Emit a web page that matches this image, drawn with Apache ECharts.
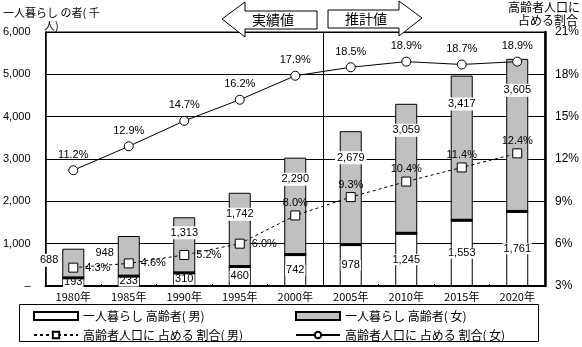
<!DOCTYPE html>
<html>
<head>
<meta charset="utf-8">
<script src="https://cdn.jsdelivr.net/npm/echarts@6/dist/echarts.min.js"></script>
<style>
  html, body { margin: 0; padding: 0; background: #fff; }
  #chart { width: 582px; height: 347px; }
</style>
</head>
<body>
<div id="chart"></div>
<script>
// 一人暮らし高齢者数（千人）と高齢者人口に占める割合（%）
const years = ['1980年', '1985年', '1990年', '1995年', '2000年', '2005年', '2010年', '2015年', '2020年'];
const aloneMale = [193, 233, 310, 460, 742, 978, 1245, 1553, 1761];
const aloneFemale = [688, 948, 1313, 1742, 2290, 2679, 3059, 3417, 3605];
const shareMale = [4.3, 4.6, 5.2, 6.0, 8.0, 9.3, 10.4, 11.4, 12.4];
const shareFemale = [11.2, 12.9, 14.7, 16.2, 17.9, 18.5, 18.9, 18.7, 18.9];

const NUM_FONT = "'Liberation Sans', Arial, sans-serif";
const JP_FONT = "'Noto Sans CJK JP', sans-serif";
const NUM_SIZE = 11;
const BAR_W = 22;

const fmt = v => v.toLocaleString('en-US');

// label placement for the female bar segments
const femaleLabelDist = [2, 2, 9, 15, 15, 20, 20, 22, 25];
const femaleData = aloneFemale.map((v, i) => ({
  value: v,
  label: i < 2
    ? { position: 'left', distance: 2, offset: [0, -3] }
    : { position: 'insideTop', distance: femaleLabelDist[i] }
}));
const shareMaleData = shareMale.map((v, i) => ({
  value: v,
  label: i < 4
    ? { position: 'right', distance: 7 }
    : { position: 'top', distance: 2 }
}));

const chart = echarts.init(document.getElementById('chart'), null, { renderer: 'canvas' });

const legendText = { fontFamily: JP_FONT, fontSize: 12, color: '#000', lineHeight: 14 };

const option = {
  animation: false,
  backgroundColor: '#fff',
  textStyle: { fontFamily: JP_FONT, color: '#000' },
  grid: { left: 41, right: 34, top: 32, bottom: 61, show: true, borderColor: '#000', borderWidth: 1 },
  xAxis: {
    type: 'category',
    data: years,
    boundaryGap: true,
    axisLine: { lineStyle: { color: '#000', width: 2 } },
    axisTick: { show: true, inside: true, length: 2, lineStyle: { color: '#000' } },
    axisLabel: { color: '#000', fontFamily: JP_FONT, fontSize: 11, margin: 5 },
    splitLine: { show: false }
  },
  yAxis: [
    {
      type: 'value', min: 0, max: 6000, interval: 1000, position: 'left',
      axisLine: { show: true, lineStyle: { color: '#000', width: 1.5 } },
      axisTick: { show: false },
      axisLabel: { color: '#000', fontFamily: NUM_FONT, fontSize: NUM_SIZE, margin: 15,
        formatter: v => v === 0 ? '–' : fmt(v) },
      splitLine: { show: true, lineStyle: { color: '#000', width: 1 } }
    },
    {
      type: 'value', min: 3, max: 21, interval: 3, position: 'right',
      axisLine: { show: true, lineStyle: { color: '#000', width: 2.5 } },
      axisTick: { show: false },
      axisLabel: { color: '#000', fontFamily: NUM_FONT, fontSize: 12, margin: 10, formatter: '{value}%' },
      splitLine: { show: false }
    }
  ],
  legend: [
    {
      orient: 'vertical', left: 33, top: 309, height: 40, padding: 0,
      itemWidth: 44, itemHeight: 8, itemGap: 5, textStyle: legendText,
      data: [{ name: '一人暮らし 高齢者( 男)', icon: 'rect' }, '高齢者人口に 占める 割合( 男)']
    },
    {
      orient: 'vertical', left: 295, top: 309, height: 40, padding: 0,
      itemWidth: 44, itemHeight: 8, itemGap: 5, textStyle: legendText,
      data: [{ name: '一人暮らし 高齢者( 女)', icon: 'rect' }, '高齢者人口に 占める 割合( 女)']
    }
  ],
  series: [
    {
      name: '一人暮らし 高齢者( 男)',
      type: 'bar', stack: 'alone', barWidth: BAR_W, yAxisIndex: 0,
      data: aloneMale,
      itemStyle: { color: '#fff', borderColor: '#000', borderWidth: 1 },
      label: { show: true, position: 'inside', color: '#000', fontFamily: NUM_FONT, fontSize: NUM_SIZE,
        backgroundColor: '#fff', padding: [0, 1], formatter: p => fmt(p.value) },
      z: 2
    },
    {
      name: '一人暮らし 高齢者( 女)',
      type: 'bar', stack: 'alone', barWidth: BAR_W, yAxisIndex: 0,
      data: femaleData,
      itemStyle: { color: '#c0c0c0', borderColor: '#000', borderWidth: 1 },
      label: { show: true, color: '#000', fontFamily: NUM_FONT, fontSize: NUM_SIZE,
        backgroundColor: '#fff', padding: [1, 2], formatter: p => fmt(p.value) },
      z: 2
    },
    {
      // heavy rule on top of each male segment
      type: 'custom', yAxisIndex: 0, silent: true, z: 3,
      data: aloneMale.map((v, i) => [i, v]),
      renderItem: (params, api) => {
        const p = api.coord([api.value(0), api.value(1)]);
        return {
          type: 'line',
          shape: { x1: p[0] - BAR_W / 2, y1: p[1], x2: p[0] + BAR_W / 2, y2: p[1] },
          style: { stroke: '#000', lineWidth: 3 }
        };
      }
    },
    {
      name: '高齢者人口に 占める 割合( 男)',
      type: 'line', yAxisIndex: 1, data: shareMaleData,
      symbol: 'rect', symbolSize: 9,
      lineStyle: { color: '#000', width: 1, type: [3, 3] },
      itemStyle: { color: '#fff', borderColor: '#000', borderWidth: 1 },
      label: { show: true, color: '#000', fontFamily: NUM_FONT, fontSize: NUM_SIZE, formatter: p => p.value.toFixed(1) + '%' },
      z: 5
    },
    {
      name: '高齢者人口に 占める 割合( 女)',
      type: 'line', yAxisIndex: 1, data: shareFemale,
      symbol: 'circle', symbolSize: 9,
      lineStyle: { color: '#000', width: 1 },
      itemStyle: { color: '#fff', borderColor: '#000', borderWidth: 1 },
      label: { show: true, position: 'top', distance: 5, color: '#000', fontFamily: NUM_FONT, fontSize: NUM_SIZE,
        formatter: p => p.value.toFixed(1) + '%' },
      z: 5
    }
  ]
};

chart.setOption(option);

// divider between actual (実績値) and projected (推計値) periods
const pa = chart.convertToPixel({ seriesIndex: 0 }, [4, 6000]);
const pb = chart.convertToPixel({ seriesIndex: 0 }, [5, 0]);
const xDiv = Math.round((pa[0] + pb[0]) / 2) + 0.5;

const jp = size => ({ fontFamily: 'Noto Sans CJK JP', fontSize: size, fill: '#000' });

chart.setOption({
  graphic: [
    { type: 'line', shape: { x1: xDiv, y1: pa[1], x2: xDiv, y2: pb[1] }, style: { stroke: '#000', lineWidth: 1 }, z: 1 },
    // left arrow: 実績値
    { type: 'polygon', shape: { points: [[222, 19], [245, 2], [245, 11], [317, 11], [317, 29], [245, 29], [245, 37]] },
      style: { fill: '#fff', stroke: '#000', lineWidth: 1 }, z: 10 },
    { type: 'text', x: 273, y: 20, style: Object.assign(jp(14), { text: '実績値', align: 'center', verticalAlign: 'middle' }), z: 11 },
    // right arrow: 推計値
    { type: 'polygon', shape: { points: [[328, 10], [399, 10], [399, 1], [422, 18], [399, 36], [399, 28], [328, 28]] },
      style: { fill: '#fff', stroke: '#000', lineWidth: 1 }, z: 10 },
    { type: 'text', x: 366, y: 19, style: Object.assign(jp(14), { text: '推計値', align: 'center', verticalAlign: 'middle' }), z: 11 },
    // axis titles
    { type: 'text', x: 3, y: 7, style: Object.assign(jp(11), { text: '一人暮らし の者( 千', verticalAlign: 'top' }), z: 11 },
    { type: 'text', x: 44, y: 20, style: Object.assign(jp(11), { text: '人)', verticalAlign: 'top' }), z: 11 },
    { type: 'text', x: 580, y: 1, style: Object.assign(jp(12), { text: '高齢者人口に', align: 'right', verticalAlign: 'top' }), z: 11 },
    { type: 'text', x: 578, y: 14, style: Object.assign(jp(12), { text: '占める割合', align: 'right', verticalAlign: 'top' }), z: 11 },
    // legend frame
    { type: 'rect', shape: { x: 19.5, y: 304.5, width: 519, height: 37 }, style: { fill: 'none', stroke: '#000', lineWidth: 1 }, z: 0 }
  ]
});
</script>
</body>
</html>
